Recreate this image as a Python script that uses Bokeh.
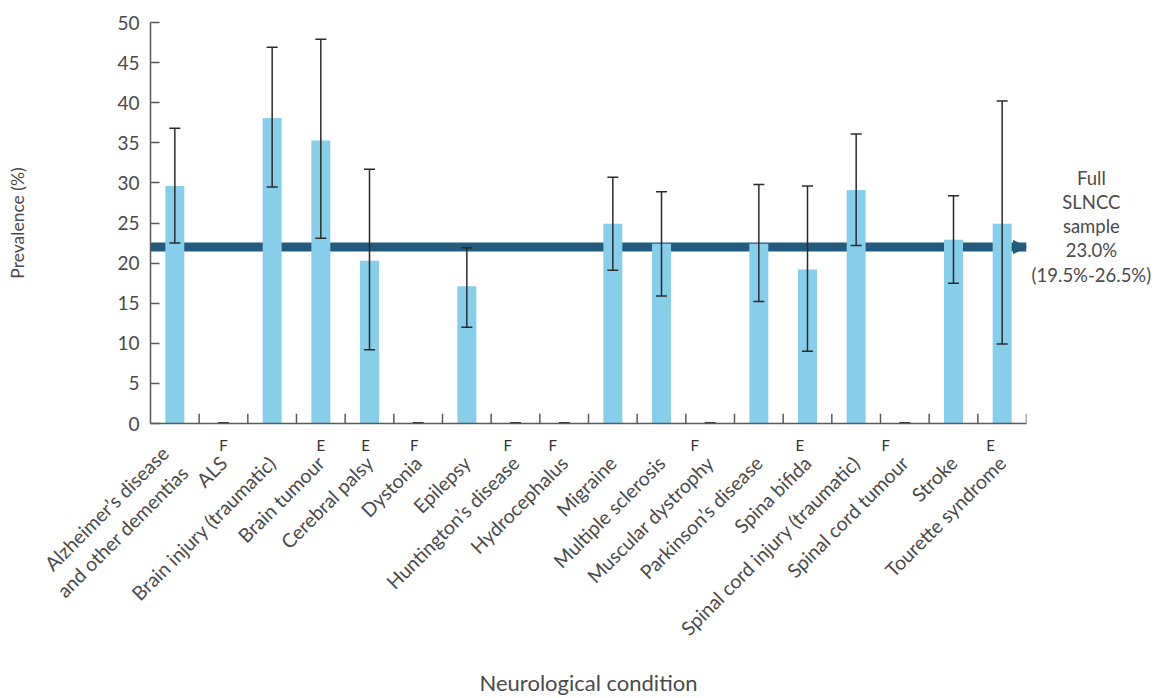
import math
from bokeh.plotting import figure
from bokeh.layouts import row
from bokeh.core.properties import value
from bokeh.models import (ColumnDataSource, FactorRange, Range1d, Whisker, TeeHead,
                          CategoricalAxis, Arrow, NormalHead, SingleIntervalTicker)
from bokeh.embed import file_html
from bokeh.resources import INLINE

conditions = [
    "Alzheimer’s disease\nand other dementias", "ALS", "Brain injury (traumatic)",
    "Brain tumour", "Cerebral palsy", "Dystonia", "Epilepsy", "Huntington’s disease",
    "Hydrocephalus", "Migraine", "Multiple sclerosis", "Muscular dystrophy",
    "Parkinson’s disease", "Spina bifida", "Spinal cord injury (traumatic)",
    "Spinal cord tumour", "Stroke", "Tourette syndrome",
]
prevalence = [29.6, 0, 38.1, 35.3, 20.3, 0, 17.1, 0, 0, 24.9, 22.4, 0, 22.4, 19.2, 29.1, 0, 22.9, 24.9]
ci_lower = [22.5, None, 29.5, 23.1, 9.2, None, 12.0, None, None, 19.1, 15.9, None, 15.2, 9.0, 22.2, None, 17.5, 9.9]
ci_upper = [36.8, None, 46.9, 47.9, 31.7, None, 21.9, None, None, 30.7, 28.9, None, 29.8, 29.6, 36.1, None, 28.4, 40.2]
flags = ["", "F", "", "E", "E", "F", "", "F", "F", "", "", "F", "", "E", "", "F", "", "E"]
full_sample_line = 22.0
full_sample_text = "Full\nSLNCC\nsample\n23.0%\n(19.5%-26.5%)"
y_ticks_interval = 5

FONT = "Lato"
TXT = "#4a4a4a"
BAR = "#87ceeb"
NAVY = "#245a7e"
AX = "#5a5a5a"

n = len(conditions)
H = 698
TOP, BOTTOM = 22, 267

# unique factor strings for the flag row (padding keeps them distinct but centred)
seen = {}
flag_factors = []
for f in flags:
    k = seen.get(f, 0)
    seen[f] = k + 1
    flag_factors.append(" " * k + f + " " * k if f else " " * (2 * k + 1))

p = figure(width=1028, height=H, x_range=FactorRange(factors=conditions),
           y_range=Range1d(0, 50), output_backend="svg", toolbar_location=None,
           x_axis_location=None,
           min_border_left=150, min_border_right=2, min_border_top=TOP, min_border_bottom=BOTTOM)
p.outline_line_color = None
p.grid.visible = False
p.extra_x_ranges = {"flags": FactorRange(factors=flag_factors)}

# reference arrow body (under bars) + head
p.add_layout(Arrow(x_start=0, y_start=full_sample_line, x_end=n, y_end=full_sample_line,
                   line_color=NAVY, line_width=9, level="underlay", end=None))
p.add_layout(Arrow(x_start=n - 0.1, y_start=full_sample_line, x_end=n, y_end=full_sample_line,
                   line_alpha=0, line_width=0, level="annotation",
                   end=NormalHead(size=13, fill_color=NAVY, line_color=NAVY, line_width=1)))

src = ColumnDataSource(dict(cat=conditions, val=prevalence))
p.vbar(x="cat", top="val", width=0.39, source=src, fill_color=BAR, line_color=None)

# zero-value dash markers
zc = [c for c, v in zip(conditions, prevalence) if v == 0]
p.scatter(x=zc, y=[0] * len(zc), marker="dash", size=11, line_color="#333333", line_width=3)

# category separator ticks
p.segment(x0=list(range(1, n + 1)), y0=[0] * n, x1=list(range(1, n + 1)), y1=[1.22] * n,
          line_color=AX, line_width=1.5)

# error bars
ec = [c for c, l in zip(conditions, ci_lower) if l is not None]
el = [l for l in ci_lower if l is not None]
eu = [u for u in ci_upper if u is not None]
esrc = ColumnDataSource(dict(cat=ec, lower=el, upper=eu))
p.add_layout(Whisker(base="cat", lower="lower", upper="upper", source=esrc,
                     line_color="#2b2b2b", line_width=1.5, level="annotation",
                     upper_head=TeeHead(size=11, line_color="#2b2b2b", line_width=1.5),
                     lower_head=TeeHead(size=11, line_color="#2b2b2b", line_width=1.5)))

# y axis
p.yaxis.ticker = SingleIntervalTicker(interval=y_ticks_interval)
p.yaxis.minor_tick_line_color = None
p.yaxis.major_tick_in = 9
p.yaxis.major_tick_out = 0
p.yaxis.major_label_standoff = 7
p.yaxis.major_label_text_font = FONT
p.yaxis.major_label_text_font_size = "19px"
p.yaxis.major_label_text_color = TXT
p.yaxis.axis_label = "Prevalence (%)"
p.yaxis.axis_label_standoff = 86
p.yaxis.axis_label_text_font = FONT
p.yaxis.axis_label_text_font_size = "17.5px"
p.yaxis.axis_label_text_font_style = "normal"
p.yaxis.axis_label_text_color = TXT
p.yaxis.axis_line_color = AX
p.yaxis.axis_line_width = 1.5
p.yaxis.major_tick_line_color = AX
p.yaxis.major_tick_line_width = 1.5

# first x axis: F / E flags under their categories
fx = CategoricalAxis(x_range_name="flags")
fx.major_tick_line_color = None
fx.major_label_standoff = 6
fx.major_label_orientation = "horizontal"
fx.major_label_text_font = FONT
fx.major_label_text_font_size = "15px"
fx.major_label_text_color = "#333333"
fx.axis_line_color = AX
fx.axis_line_width = 1.5
p.add_layout(fx, "below")

# second x axis: condition names
nx = CategoricalAxis()
nx.axis_line_color = None
nx.major_tick_line_color = None
nx.major_label_orientation = math.pi / 4
nx.major_label_standoff = -3
nx.major_label_text_font = FONT
nx.major_label_text_font_size = "19.5px"
nx.major_label_text_color = TXT
nx.axis_label = "Neurological condition"
nx.axis_label_standoff = 18
nx.axis_label_text_font = FONT
nx.axis_label_text_font_size = "22px"
nx.axis_label_text_font_style = "normal"
nx.axis_label_text_color = TXT
p.add_layout(nx, "below")

# side panel with the full-sample note
p2 = figure(width=131, height=H, x_range=Range1d(0, 1), y_range=p.y_range,
            output_backend="svg", toolbar_location=None,
            x_axis_location=None, y_axis_location=None,
            min_border_left=0, min_border_right=0, min_border_top=TOP, min_border_bottom=BOTTOM)
p2.outline_line_color = None
p2.grid.visible = False
p2.text(x=[0.48], y=[24.6], text=[full_sample_text], text_align="center",
        text_baseline="middle", text_font=value(FONT), text_font_size="18.5px",
        text_color=TXT, text_line_height=1.1)

layout = row(p, p2, spacing=0)
open("out.html", "w").write(file_html(layout, INLINE))
